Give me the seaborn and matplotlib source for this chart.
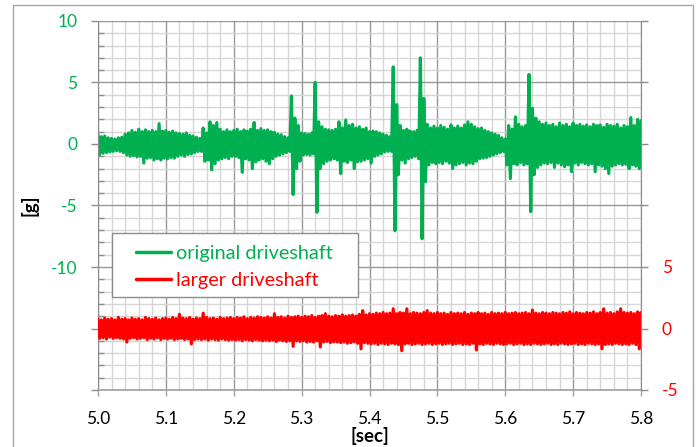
import numpy as np
import pandas as pd
import matplotlib
matplotlib.use("Agg")
import matplotlib.pyplot as plt
from matplotlib.ticker import MultipleLocator, FuncFormatter
from matplotlib.patches import Rectangle
import seaborn as sns

# ---------------- data ----------------
# envelope peaks of the vibration signals, one value every 0.005 s
# "hi" peaks at t = 5.000 + 0.005*i, "lo" troughs at t = 5.0025 + 0.005*i
t_start = 5.0
t_step = 0.005

green_hi = [
    0.75, 0.6, 0.65, 0.5, 0.45, 0.4, 0.5, 0.55, 0.8, 0.9,
    1.1, 0.95, 1.2, 1.0, 1.15, 1.0, 1.1, 1.0, 1.65, 1.05,
    1.1, 0.95, 1.05, 0.9, 0.85, 0.8, 0.9, 0.7, 0.65, 0.55,
    0.45, 1.3, 0.9, 1.8, 1.5, 1.75, 1.2, 1.0, 1.15, 1.0,
    1.1, 1.2, 1.0, 1.15, 1.05, 1.2, 1.75, 1.1, 1.25, 1.1,
    1.15, 1.0, 0.95, 0.8, 0.75, 0.6, 0.5, 3.9, 2.1, 1.5,
    0.9, 0.85, 0.8, 0.9, 5.0, 1.8, 1.4, 1.2, 1.15, 1.1,
    1.2, 1.8, 1.3, 1.95, 1.5, 1.6, 1.3, 1.4, 1.2, 1.3,
    1.0, 1.05, 1.0, 0.9, 0.8, 0.7, 0.6, 6.27, 3.2, 1.5,
    1.1, 1.2, 1.05, 1.0, 1.1, 7.0, 3.7, 1.6, 1.3, 1.45,
    1.3, 1.5, 1.35, 1.2, 1.55, 1.3, 1.45, 1.3, 1.55, 1.8,
    1.6, 1.4, 1.25, 1.3, 1.1, 1.0, 0.9, 0.8, 0.7, 0.5,
    0.4, 1.5, 1.2, 2.2, 1.6, 1.4, 1.5, 5.65, 2.9, 2.1,
    1.8, 1.6, 1.7, 1.5, 1.6, 1.4, 1.7, 1.5, 1.6, 1.4,
    1.7, 1.5, 1.6, 1.45, 1.55, 1.4, 1.6, 1.5, 1.55, 1.35,
    1.6, 1.5, 1.45, 1.6, 1.3, 1.5, 1.4, 2.15, 1.5, 2.0,
    1.9,
]
green_lo = [
    -0.85, -0.75, -0.7, -0.65, -0.6, -0.55, -0.6, -0.7, -0.9, -1.0,
    -0.95, -1.05, -1.0, -1.55, -1.15, -1.1, -1.3, -1.2, -1.3, -1.15,
    -1.2, -1.1, -1.15, -1.0, -0.9, -1.0, -0.85, -0.8, -0.7, -0.6,
    -0.6, -1.4, -1.3, -2.1, -1.6, -1.3, -1.2, -1.1, -1.2, -1.0,
    -1.0, -1.1, -2.3, -1.2, -1.3, -2.0, -1.45, -1.3, -1.2, -1.4,
    -1.6, -1.2, -1.0, -0.9, -0.8, -0.7, -0.6, -4.1, -2.0, -1.4,
    -0.9, -0.85, -0.9, -0.8, -5.55, -2.0, -1.6, -1.4, -1.3, -1.2,
    -1.3, -2.4, -1.4, -1.5, -1.3, -2.0, -1.45, -1.4, -1.3, -1.2,
    -1.55, -1.0, -0.9, -0.8, -0.65, -0.6, -0.6, -7.05, -2.5, -1.3,
    -1.55, -1.2, -1.1, -1.0, -1.2, -7.7, -3.05, -1.7, -1.5, -1.6,
    -1.5, -1.6, -1.4, -1.55, -2.0, -1.7, -1.6, -1.5, -1.7, -1.55,
    -1.6, -1.4, -1.2, -1.15, -1.1, -1.0, -0.9, -0.8, -0.7, -0.6,
    -1.7, -2.8, -1.6, -1.7, -1.5, -1.7, -1.6, -5.5, -2.5, -1.9,
    -1.7, -1.55, -1.6, -1.5, -1.9, -1.55, -1.7, -1.85, -1.7, -2.25,
    -1.55, -1.7, -1.5, -1.6, -1.7, -1.6, -2.25, -1.7, -1.8, -2.0,
    -2.4, -1.8, -1.7, -1.6, -1.7, -1.65, -2.0, -1.7, -1.8, -2.0,
    -1.9,
]
red_hi = [
    0.8, 0.7, 0.85, 0.75, 0.8, 0.7, 0.9, 0.75, 0.8, 0.7,
    0.85, 0.75, 0.8, 0.7, 0.9, 0.8, 0.75, 0.85, 0.7, 0.8,
    0.85, 0.75, 0.9, 0.8, 1.15, 0.85, 0.8, 0.9, 0.75, 0.85,
    0.8, 1.25, 0.9, 0.8, 0.85, 0.75, 0.9, 0.8, 0.85, 0.9,
    0.8, 0.9, 0.85, 0.95, 0.8, 0.9, 0.85, 0.95, 0.9, 0.85,
    0.95, 0.85, 1.2, 0.9, 0.95, 0.85, 1.0, 0.9, 0.95, 1.0,
    0.9, 1.0, 0.95, 1.05, 0.9, 1.0, 1.05, 1.2, 1.0, 0.95,
    1.05, 1.0, 1.1, 1.0, 1.05, 1.1, 1.0, 1.15, 1.45, 1.1,
    1.2, 1.15, 1.25, 1.2, 1.3, 1.2, 1.25, 1.6, 1.2, 1.3,
    1.25, 1.6, 1.2, 1.3, 1.25, 1.2, 1.3, 1.45, 1.25, 1.2,
    1.3, 1.2, 1.25, 1.15, 1.3, 1.2, 1.25, 1.2, 1.3, 1.15,
    1.25, 1.2, 1.3, 1.2, 1.25, 1.15, 1.3, 1.2, 1.25, 1.2,
    1.3, 1.2, 1.25, 1.3, 1.2, 1.25, 1.3, 1.2, 1.5, 1.25,
    1.2, 1.3, 1.25, 1.2, 1.3, 1.25, 1.2, 1.3, 1.25, 1.35,
    1.2, 1.3, 1.25, 1.2, 1.3, 1.25, 1.35, 1.2, 1.3, 1.6,
    1.25, 1.3, 1.2, 1.35, 1.6, 1.3, 1.25, 1.3, 1.2, 1.35,
    1.3,
]
red_lo = [
    -0.8, -0.75, -0.85, -0.7, -0.8, -0.75, -0.8, -0.85, -1.1, -0.8,
    -0.75, -0.85, -0.8, -0.75, -0.9, -0.8, -0.85, -0.75, -0.9, -0.8,
    -0.85, -0.8, -0.9, -0.85, -0.8, -0.9, -0.85, -1.25, -0.9, -0.85,
    -0.9, -0.85, -0.95, -0.85, -0.9, -0.95, -0.85, -0.9, -0.95, -0.9,
    -0.95, -0.9, -1.0, -0.9, -0.95, -1.0, -0.9, -0.95, -1.0, -0.95,
    -1.0, -0.95, -1.05, -0.95, -1.0, -1.05, -1.0, -1.45, -1.0, -1.05,
    -1.0, -1.1, -1.05, -1.1, -1.0, -1.5, -1.1, -1.05, -1.15, -1.1,
    -1.1, -1.15, -1.1, -1.2, -1.15, -1.1, -1.2, -1.65, -1.15, -1.2,
    -1.25, -1.2, -1.3, -1.2, -1.25, -1.3, -1.2, -1.25, -1.3, -1.8,
    -1.25, -1.2, -1.3, -1.25, -1.2, -1.3, -1.25, -1.2, -1.3, -1.25,
    -1.2, -1.3, -1.25, -1.2, -1.3, -1.25, -1.2, -1.3, -1.25, -1.3,
    -1.2, -1.75, -1.25, -1.3, -1.2, -1.25, -1.3, -1.2, -1.25, -1.3,
    -1.25, -1.2, -1.3, -1.25, -1.2, -1.3, -1.25, -1.3, -1.2, -1.25,
    -1.3, -1.25, -1.2, -1.3, -1.25, -1.3, -1.2, -1.25, -1.3, -1.25,
    -1.2, -1.3, -1.25, -1.3, -1.2, -1.25, -1.3, -1.25, -1.65, -1.3,
    -1.25, -1.3, -1.2, -1.25, -1.3, -1.25, -1.3, -1.2, -1.3, -1.65,
    -1.3,
]

series_names = ["original driveshaft", "larger driveshaft"]
x_ticks = [5.0, 5.1, 5.2, 5.3, 5.4, 5.5, 5.6, 5.7, 5.8]
left_labelled = [-10, -5, 0, 5, 10]
right_labelled = [-5, 0, 5]

GREEN = "#00B050"
RED = "#FF0000"


def zigzag(hi, lo):
    n = len(hi)
    t_hi = t_start + t_step * np.arange(n)
    t_lo = t_hi + t_step / 2
    t = np.empty(2 * n)
    v = np.empty(2 * n)
    t[0::2], t[1::2] = t_hi, t_lo
    v[0::2], v[1::2] = hi, lo
    return pd.DataFrame({"t": t, "v": v})


df_g = zigzag(green_hi, green_lo)
df_r = zigzag(red_hi, red_lo)

# ---------------- styling ----------------
sns.set_style("white")
plt.rcParams["font.family"] = ["Lato", "DejaVu Sans"]

W, H = 698, 447
fig = plt.figure(figsize=(W / 100, H / 100), dpi=100)
L, R, T, B = 98, 641, 21, 390
ax = fig.add_axes([L / W, 1 - B / H, (R - L) / W, (B - T) / H])
ax2 = ax.twinx()

# outer chart frame
fig.patches.append(Rectangle((13 / W, -0.05), (693 - 13) / W, 1.05 - 5 / H,
                             transform=fig.transFigure, fill=False,
                             edgecolor="#A6A6A6", lw=1.0, zorder=0))

sns.lineplot(data=df_g, x="t", y="v", ax=ax, color=GREEN, lw=2.3,
             sort=False, estimator=None, legend=False)
sns.lineplot(data=df_r, x="t", y="v", ax=ax2, color=RED, lw=2.3,
             sort=False, estimator=None, legend=False)

ax.set_xlim(5.0, 5.8)
ax.set_ylim(-20, 10)
ax2.set_ylim(-5, 25)

ax.xaxis.set_major_locator(MultipleLocator(0.1))
ax.xaxis.set_minor_locator(MultipleLocator(0.02))
ax.yaxis.set_major_locator(MultipleLocator(5))
ax.yaxis.set_minor_locator(MultipleLocator(1))
ax2.yaxis.set_major_locator(MultipleLocator(5))

ax.set_xticks(x_ticks)
ax.xaxis.set_major_formatter(FuncFormatter(lambda v, p: f"{v:.1f}"))
ax.yaxis.set_major_formatter(FuncFormatter(
    lambda v, p: str(int(round(v))) if int(round(v)) in left_labelled else ""))
ax2.yaxis.set_major_formatter(FuncFormatter(
    lambda v, p: str(int(round(v))) if int(round(v)) in right_labelled else ""))

ax.grid(which="major", color="#989898", lw=1.0)
ax.grid(which="minor", color="#D6D6D6", lw=1.0)
ax.set_axisbelow(True)

for a in (ax, ax2):
    for s in a.spines.values():
        s.set_visible(False)
ax.spines["left"].set_visible(True)
ax.spines["left"].set_color("#8C8C8C")
ax.spines["bottom"].set_visible(True)
ax.spines["bottom"].set_color("#A0A0A0")
ax.spines["bottom"].set_linewidth(1.2)
ax2.spines["right"].set_visible(True)
ax2.spines["right"].set_color("#8C8C8C")

ax.tick_params(axis="y", which="major", direction="out", length=5, width=1,
               color="#8C8C8C", labelsize=12.5, labelcolor=GREEN, pad=10, left=True)
ax.tick_params(axis="y", which="minor", direction="in", length=4, width=1,
               color="#8C8C8C", left=True)
ax.tick_params(axis="x", which="major", direction="out", length=4, width=1,
               color="#A0A0A0", labelsize=12.5, labelcolor="black", pad=11, bottom=True)
ax.tick_params(axis="x", which="minor", length=0)
ax2.tick_params(axis="y", which="major", direction="out", length=5, width=1,
                color="#8C8C8C", labelsize=12.5, labelcolor=RED, pad=10, right=True)
ax2.tick_params(axis="y", which="minor", length=0)

ax.set_xlabel("")
ax.set_ylabel("")
ax2.set_ylabel("")

fig.text((L + R) / 2 / W, 1 - 436 / H, "[sec]", ha="center", va="center",
         fontsize=13.5, fontweight="bold", color="black")
fig.text(30 / W, 1 - 205 / H, "[g]", ha="center", va="center", rotation=90,
         fontsize=13.5, fontweight="bold", color="black")

# legend
ax2.add_patch(Rectangle((112 / W, 1 - 297 / H), (358 - 112) / W, (297 - 233) / H,
                        transform=fig.transFigure, facecolor="white",
                        edgecolor="#8C8C8C", lw=1.0, zorder=4))
handles = [ax.get_lines()[0], ax2.get_lines()[0]]
leg = ax2.legend(handles, series_names, loc="upper left",
                 bbox_to_anchor=(126 / W, 1 - 235 / H),
                 bbox_transform=fig.transFigure, frameon=False,
                 fontsize=14.3, labelcolor="linecolor", borderpad=0,
                 handlelength=1.75, handletextpad=0.28, labelspacing=0.5)
for ln in leg.get_lines():
    ln.set_linewidth(2.5)
leg.set_zorder(5)

fig.savefig("out.png", dpi=100)
